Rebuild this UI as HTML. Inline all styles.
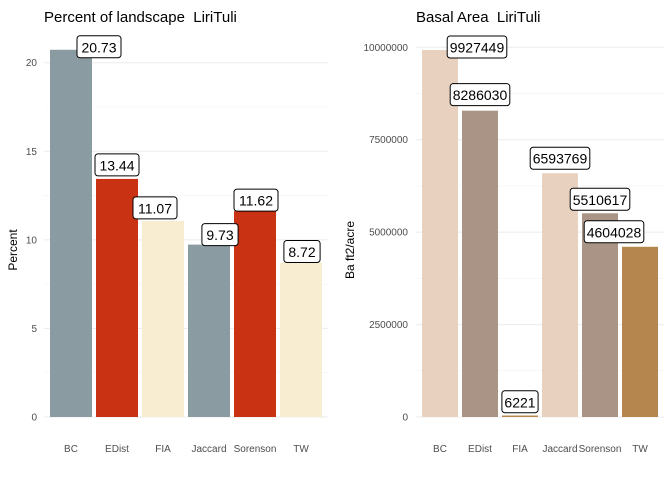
<!DOCTYPE html>
<html><head><meta charset="utf-8"><style>
body{margin:0;background:#fff}
svg text{font-family:"Liberation Sans",sans-serif}
</style></head><body>
<svg id="c" width="672" height="480" xmlns="http://www.w3.org/2000/svg"></svg>
<script>
const categories=["BC","EDist","FIA","Jaccard","Sorenson","TW"];
const pctValues=[20.73,13.44,11.07,9.73,11.62,8.72];
const pctLabels=["20.73","13.44","11.07","9.73","11.62","8.72"];
const pctTicks=[0,5,10,15,20];
const baValues=[9927449,8286030,6221,6593769,5510617,4604028];
const baLabels=["9927449","8286030","6221","6593769","5510617","4604028"];
const baTicks=[0,2500000,5000000,7500000,10000000];
const baTickLabels=["0","2500000","5000000","7500000","10000000"];

const NS="http://www.w3.org/2000/svg";
const svg=document.getElementById('c');
function el(t,a,p){const e=document.createElementNS(NS,t);for(const k in a)e.setAttribute(k,a[k]);(p||svg).appendChild(e);return e;}

function panel(o){
  const g=el('g',{});
  
  
  const y=v=>417-(v/o.max)*(417-o.topPx);
  const x=i=>o.x0+i*o.step;
  for(let k=0;k<o.ticks.length;k++){
    const t=o.ticks[k];
    const gl=el('line',{x1:o.gx0,x2:o.gx1,y1:y(t),y2:y(t),stroke:'#EBEBEB','stroke-width':1},g);
    
    
    if(k<o.ticks.length-1){const m=(t+o.ticks[k+1])/2;el('line',{x1:o.gx0,x2:o.gx1,y1:y(m),y2:y(m),stroke:'#F2F2F2','stroke-width':0.6},g);}
    const tl=el('text',{x:o.tx,y:y(t)+3.5,'text-anchor':'end','font-size':10,fill:'#4D4D4D'},g);
    tl.textContent=o.tickLabels[k];
    
    
  }
  o.values.forEach((v,i)=>{
    const h=Math.max(417-y(v),1.5);
    const r=el('rect',{x:x(i)-o.bw/2,y:417-h,width:o.bw,height:h,fill:o.colors[i]},g);
    
    
    const xl=el('text',{x:x(i),y:452,'text-anchor':'middle','font-size':10,fill:'#4D4D4D'},g);
    xl.textContent=categories[i];
    
    
  });
  o.values.forEach((v,i)=>{
    const cx=x(i)+o.dx[i];
    const ty=y(v)+o.dy[i];
    const w=o.labels[i].length*7.8+5;
    const lg=el('g',{},g);
    
    
    el('rect',{x:cx-w/2,y:ty,width:w,height:22,rx:3,fill:'#fff',stroke:'#000','stroke-width':1},lg);
    const t=el('text',{x:cx,y:ty+16.5,'text-anchor':'middle','font-size':14,fill:'#000'},lg);
    t.textContent=o.labels[i];
  });
  const tt=el('text',{x:o.titleX,y:22,'font-size':15,fill:'#000'},g);
  tt.textContent=o.title;
  
  
  const yt=el('text',{transform:`translate(${o.ytX},250) rotate(-90)`,'text-anchor':'middle','font-size':12,fill:'#000'},g);
  yt.textContent=o.ytitle;
  
  
}
panel({name:'percent-panel',values:pctValues,labels:pctLabels,ticks:pctTicks,tickLabels:pctTicks.map(String),
  max:20,topPx:62.7,x0:71,step:46,bw:42,gx0:44,gx1:328,tx:37,
  colors:['#8A9BA1','#C93314','#F9EDD1','#8A9BA1','#C93314','#F9EDD1'],
  dx:[28,0,-8,11,1,1],dy:[-14,-25,-24,-21,-22,-22],
  title:'Percent of landscape\u00a0 LiriTuli',titleX:44,ytX:17,ytitle:'Percent'});
panel({name:'basal-area-panel',values:baValues,labels:baLabels,ticks:baTicks,tickLabels:baTickLabels,
  max:10000000,topPx:47.3,x0:440,step:40,bw:36,gx0:416,gx1:664,tx:408,
  colors:['#E8D2BF','#A99485','#B5874F','#E8D2BF','#A99485','#B5874F'],
  dx:[37,0,0,0,0,-26],dy:[-14,-27,-26,-26,-25,-26],
  title:'Basal Area\u00a0 LiriTuli',titleX:416,ytX:354,ytitle:'Ba ft2/acre'});
</script>
</body></html>
